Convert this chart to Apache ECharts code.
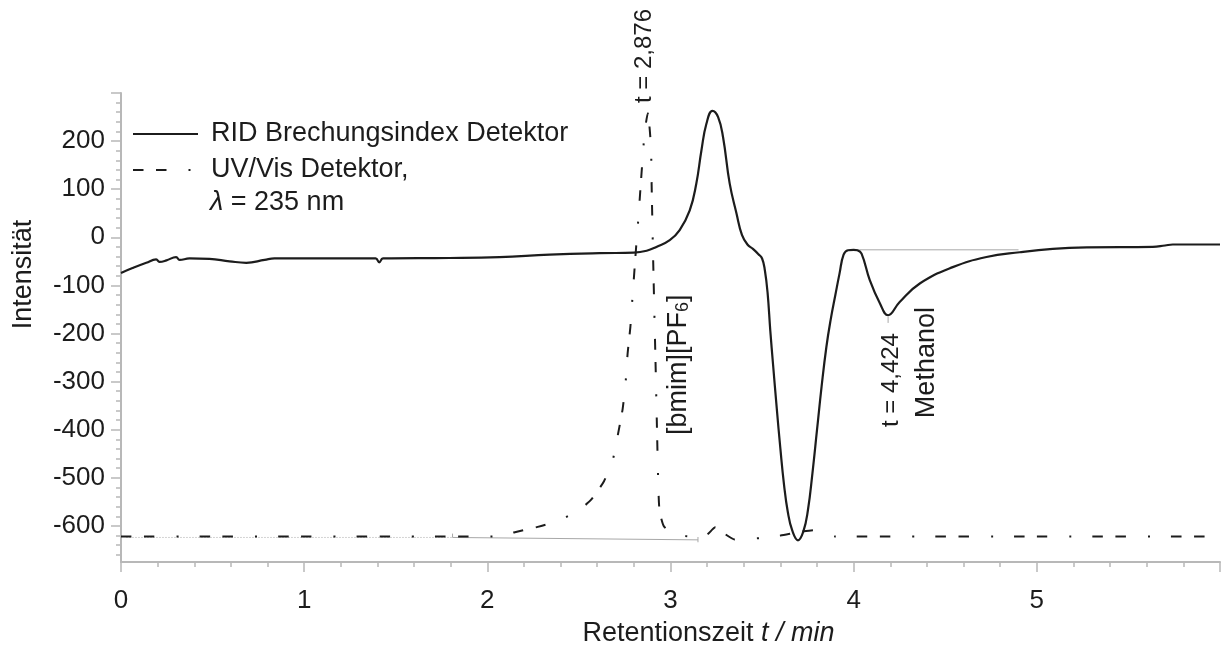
<!DOCTYPE html>
<html>
<head>
<meta charset="utf-8">
<script src="https://cdn.jsdelivr.net/npm/echarts@6/dist/echarts.min.js"></script>
<style>
  html, body { margin: 0; padding: 0; background: #ffffff; }
  #chart { width: 1222px; height: 648px; }
</style>
</head>
<body>
<div id="chart"></div>
<script>
// Retention time (min) and signal of the refractive-index detector
const ridTime = [0, 0.063, 0.138, 0.192, 0.21, 0.248, 0.301, 0.32, 0.374, 0.483, 0.593, 0.684, 0.784, 0.838, 0.975,
  1.39, 1.41, 1.43, 1.794, 2.067, 2.34, 2.613, 2.8, 2.87, 2.923, 2.996, 3.05, 3.105, 3.141, 3.169, 3.196, 3.229,
  3.26, 3.287, 3.323, 3.36, 3.39, 3.42, 3.45, 3.48, 3.5, 3.515, 3.53, 3.545, 3.56, 3.58, 3.6, 3.62, 3.64, 3.665, 3.696,
  3.725, 3.75, 3.775, 3.8, 3.825, 3.851, 3.875, 3.9, 3.923, 3.945, 3.969, 4.0, 4.02, 4.043, 4.088, 4.143, 4.188, 4.25,
  4.361, 4.541, 4.725, 4.907, 5.087, 5.273, 5.633, 5.7, 5.742, 6.0];
const ridSignal = [-74, -64, -53, -46, -51, -48, -41, -47, -44, -45, -50, -53, -47, -44, -44,
  -44, -52, -44, -43, -41, -36, -33, -32, -28, -20, -6, 15, 56, 112, 181, 236, 263,
  250, 208, 112, 50, 5, -15, -24, -35, -44, -68, -115, -195, -265, -355, -440, -515, -570, -610, -630,
  -612, -568, -490, -400, -310, -228, -170, -120, -75, -36, -27, -26, -27, -34, -89, -137, -162, -135,
  -96, -62, -41, -31, -24, -21, -20, -17, -15, -15];

// Retention time (min) and signal of the UV/Vis detector at 235 nm
const uvTime = [0, 0.5, 1.0, 1.5, 2.0, 2.07, 2.15, 2.275, 2.395, 2.504, 2.568, 2.637, 2.684, 2.712, 2.739, 2.755,
  2.766, 2.781, 2.792, 2.814, 2.826, 2.836, 2.847, 2.859, 2.876, 2.893, 2.897, 2.901, 2.905, 2.912, 2.919, 2.926,
  2.933, 2.94, 2.963, 3.005, 3.08, 3.14, 3.2, 3.245, 3.29, 3.35, 3.45, 3.5, 3.6, 3.7, 3.78, 3.83, 3.9, 4.0, 5.0, 6.0];
const uvSignal = [-622, -622, -622, -622, -622, -621, -613, -602, -588, -566, -545, -507, -464, -412, -356, -301,
  -241, -186, -127, -12, 46, 102, 160, 219, 258, 191, 110, 30, -41, -158, -272, -395,
  -509, -568, -600, -615, -621, -624, -618, -603, -615, -628, -626, -625, -620, -613, -609, -615, -622, -622, -622, -622];

// Integration helpers drawn in grey
const methanolBaseTime = [3.98, 4.9];
const methanolBaseSignal = [-26, -26];
const ilBracketTime = [1.81, 1.81, 3.15];
const ilBracketSignal = [-616, -624, -629];
const ilBracketEndTime = [3.15, 3.15];
const ilBracketEndSignal = [-623, -634];
const uvBaseTime = [0.03, 1.81];
const uvBaseSignal = [-624, -624];
const methanolMarkTime = [4.188, 4.188];
const methanolMarkSignal = [-165, -178];

// Axis ticks
const xLabelValues = [0, 1, 2, 3, 4, 5];
const yLabelValues = [-600, -500, -400, -300, -200, -100, 0, 100, 200];
const yMajorTickValues = [-600, -500, -400, -300, -200, -100, 0, 100, 200, 300];
const yMinorTickValues = [];
for (let v = -660; v <= 300; v += 20) yMinorTickValues.push(v);

// Peak annotations: [time, signal] anchor, text
const peakNotes = [
  { at: [2.859, 279], text: 't = 2,876', align: 'left', size: 24 },
  { at: [3.045, -411], text: '{n|[bmim][PF}{s|6}{n|]}', align: 'left', size: 27 },
  { at: [4.206, -199], text: 't = 4,424', align: 'right', size: 24 },
  { at: [4.398, -145], text: 'Methanol', align: 'right', size: 27 }
];

const zip = (xs, ys) => xs.map((x, i) => [x, ys[i]]);

const FONT = '"Liberation Sans", Arial, Helvetica, sans-serif';
const INK = '#1c1c1c';
const AXIS_GREY = '#b8b8b8';
const HELPER_GREY = '#a8a8a8';

const chart = echarts.init(document.getElementById('chart'), null, { renderer: 'canvas' });

const helper = (name, xs, ys, dotted) => ({
  name: name,
  type: 'line',
  data: zip(xs, ys),
  symbol: 'none',
  silent: true,
  z: 1,
  lineStyle: { color: HELPER_GREY, width: 1, type: dotted ? [1, 2] : 'solid' }
});

const yAxisBase = {
  type: 'value',
  min: -675,
  max: 300,
  splitLine: { show: false }
};

chart.setOption({
  animation: false,
  backgroundColor: '#ffffff',
  textStyle: { fontFamily: FONT, color: INK },
  grid: { left: 121, right: 2, top: 93, bottom: 86, containLabel: false, outerBoundsMode: 'none' },
  legend: {
    data: ['RID Brechungsindex Detektor', 'UV/Vis Detektor,'],
    orient: 'vertical',
    left: 132,
    top: 119,
    padding: 0,
    itemWidth: 65,
    itemHeight: 14,
    itemGap: 6,
    selectedMode: false,
    itemStyle: { color: 'rgba(0,0,0,0)', borderWidth: 0, opacity: 0 },
    textStyle: { fontFamily: FONT, fontSize: 27, color: INK, lineHeight: 30, padding: [0, 0, 0, 8] }
  },
  xAxis: {
    type: 'value',
    min: 0,
    max: 6,
    interval: 1,
    name: '{r|Retentionszeit }{i|t / min}',
    nameLocation: 'middle',
    nameGap: 58,
    nameTextStyle: {
      padding: [0, 0, 0, 76],
      rich: {
        r: { fontFamily: FONT, fontSize: 27, color: INK },
        i: { fontFamily: FONT, fontSize: 27, color: INK, fontStyle: 'italic' }
      }
    },
    axisLine: { show: true, onZero: false, lineStyle: { color: AXIS_GREY, width: 2 } },
    axisTick: { show: true, length: 10, lineStyle: { color: AXIS_GREY, width: 1.5 } },
    minorTick: { show: true, splitNumber: 5, length: 5, lineStyle: { color: AXIS_GREY, width: 1.5 } },
    axisLabel: {
      fontFamily: FONT, fontSize: 26, color: INK, margin: 26,
      customValues: xLabelValues
    },
    splitLine: { show: false }
  },
  yAxis: [
    Object.assign({}, yAxisBase, {
      name: 'Intensität',
      nameLocation: 'middle',
      nameGap: 84,
      nameTextStyle: { fontFamily: FONT, fontSize: 27, color: INK, padding: [0, 0, 0, 106] },
      axisLine: { show: true, onZero: false, lineStyle: { color: AXIS_GREY, width: 2 } },
      axisTick: { show: true, length: 10, customValues: yMajorTickValues, lineStyle: { color: AXIS_GREY, width: 1.5 } },
      axisLabel: { fontFamily: FONT, fontSize: 26, color: INK, margin: 16, customValues: yLabelValues }
    }),
    Object.assign({}, yAxisBase, {
      position: 'left',
      axisLine: { show: false },
      axisTick: { show: true, length: 5, customValues: yMinorTickValues, lineStyle: { color: AXIS_GREY, width: 1.5 } },
      axisLabel: { show: false }
    })
  ],
  series: [
    helper('uv-base', uvBaseTime, uvBaseSignal, true),
    helper('il-bracket', ilBracketTime, ilBracketSignal, false),
    helper('il-bracket-end', ilBracketEndTime, ilBracketEndSignal, false),
    helper('methanol-base', methanolBaseTime, methanolBaseSignal, false),
    helper('methanol-mark', methanolMarkTime, methanolMarkSignal, false),
    {
      name: 'UV/Vis Detektor,',
      type: 'line',
      data: zip(uvTime, uvSignal),
      symbol: 'none',
      smooth: 0.2,
      z: 3,
      itemStyle: { color: INK },
      lineStyle: { color: INK, width: 2, type: [10.5, 12.5, 10.5, 22, 2, 21], cap: 'butt' }
    },
    {
      name: 'RID Brechungsindex Detektor',
      type: 'line',
      data: zip(ridTime, ridSignal),
      symbol: 'none',
      smooth: 0.45,
      z: 4,
      itemStyle: { color: INK },
      lineStyle: { color: INK, width: 2.2, type: 'solid' }
    }
  ]
});

// Second legend line and the rotated peak annotations, placed through the axes
function placeNotes() {
  const els = [];
  els.push({
    type: 'text',
    left: 210,
    top: 189,
    style: {
      text: '{i|λ} = 235 nm',
      fontFamily: FONT, fontSize: 27, fill: INK,
      rich: { i: { fontStyle: 'italic', fontFamily: FONT, fontSize: 27, fill: INK } }
    }
  });
  peakNotes.forEach(n => {
    const p = chart.convertToPixel({ gridIndex: 0 }, n.at);
    els.push({
      type: 'text',
      x: p[0],
      y: p[1],
      rotation: Math.PI / 2,
      silent: true,
      style: {
        text: n.text,
        fontFamily: FONT,
        fontSize: n.size,
        fill: INK,
        align: n.align,
        verticalAlign: 'middle',
        rich: {
          n: { fontFamily: FONT, fontSize: n.size, fill: INK },
          s: { fontFamily: FONT, fontSize: Math.round(n.size * 0.68), fill: INK, verticalAlign: 'bottom' }
        }
      }
    });
  });
  chart.setOption({ graphic: { elements: els } });
}
placeNotes();
</script>
</body>
</html>
